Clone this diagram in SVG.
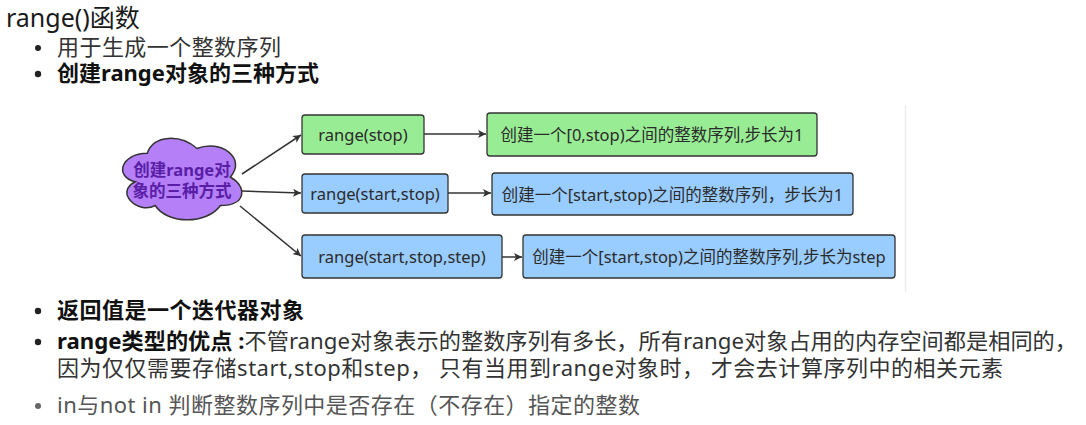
<svg xmlns="http://www.w3.org/2000/svg" width="1086" height="425" viewBox="0 0 1086 425">
<defs>
<style>
.t{font-family:"Noto Sans","Noto Sans CJK SC",sans-serif;}
.title{font-size:25px;fill:#1a1a1a;}
.b{font-size:22px;fill:#333;}
.bb{font-size:22px;fill:#111;font-weight:bold;}
.gray{fill:#555;}
.dot{fill:#222;}
.dotg{fill:#666;}
.box{stroke:#333;stroke-width:1.3;}
.green{fill:#98ec94;}
.blue{fill:#99ccff;}
.bt{font-size:16.5px;fill:#2b2b2b;text-anchor:middle;dominant-baseline:central;}
.ct{font-size:16.5px;font-weight:bold;fill:#5a1ea6;text-anchor:middle;dominant-baseline:central;}
.edge{stroke:#333;stroke-width:1.5;fill:none;marker-end:url(#arr);}
</style>
<marker id="arr" viewBox="0 0 10 10" refX="10" refY="5" markerWidth="8" markerHeight="8" markerUnits="userSpaceOnUse" orient="auto">
<path d="M0,0 L10,5 L0,10 L2.5,5 Z" fill="#333"/>
</marker>
</defs>
<rect width="1086" height="425" fill="#fff"/>
<line x1="905.5" y1="105" x2="905.5" y2="292" stroke="#ededed" stroke-width="1.5"/>

<g id="header">
<text class="t title" x="6" y="27">range()函数</text>
<circle class="dot" cx="38" cy="48" r="3"/>
<text class="t b" x="57" y="55" textLength="224">用于生成一个整数序列</text>
<circle class="dot" cx="38" cy="74" r="3.2"/>
<text class="t bb" x="57" y="81">创建range对象的三种方式</text>
</g>

<g id="connectors">
<path class="edge" d="M242,174 L301,135"/>
<path class="edge" d="M242,191 L301,193"/>
<path class="edge" d="M240,206 L301,256"/>
<path class="edge" d="M424,134 L486,134"/>
<path class="edge" d="M448,193 L491,193"/>
<path class="edge" d="M502,257 L522,257"/>
</g>

<g id="cloud">
<path d="M147.25,153.25 C120.65,153.25 114,177 135.28,181.75 C114,192.2 137.94,215 155.23,205.5 C167.2,224.5 207.1,224.5 220.4,205.5 C247,205.5 247,186.5 230.4,177 C247,158 220.4,139 197.1,148.5 C180.5,134.25 153.9,134.25 147.25,153.25 Z" fill="#b47ff7" stroke="#333" stroke-width="1.5"/>
<text class="t ct" x="182" y="169">创建range对</text>
<text class="t ct" x="182" y="190">象的三种方式</text>
</g>

<g id="n1">
<rect class="box green" x="302" y="115" width="122" height="39" rx="3"/>
<text class="t bt" x="363" y="134.5">range(stop)</text>
</g>
<g id="n2">
<rect class="box blue" x="302" y="174" width="146" height="39" rx="3"/>
<text class="t bt" x="375" y="193.5">range(start,stop)</text>
</g>
<g id="n3">
<rect class="box blue" x="302" y="235" width="200" height="43" rx="3"/>
<text class="t bt" x="402" y="256.5">range(start,stop,step)</text>
</g>
<g id="r1">
<rect class="box green" x="487" y="113" width="330" height="43" rx="3"/>
<text class="t bt" x="652" y="134.5">创建一个[0,stop)之间的整数序列,步长为1</text>
</g>
<g id="r2">
<rect class="box blue" x="492" y="173" width="361" height="42" rx="3"/>
<text class="t bt" x="672.5" y="194">创建一个[start,stop)之间的整数序列，步长为1</text>
</g>
<g id="r3">
<rect class="box blue" x="523" y="235" width="372" height="43" rx="3"/>
<text class="t bt" x="709" y="256.5">创建一个[start,stop)之间的整数序列,步长为step</text>
</g>

<g id="footer">
<circle class="dot" cx="38" cy="311" r="3.2"/>
<text class="t bb" x="57" y="318" textLength="247">返回值是一个迭代器对象</text>
<circle class="dot" cx="38" cy="342" r="3.2"/>
<text class="t b" x="57" y="349" textLength="1020" lengthAdjust="spacingAndGlyphs"><tspan class="bb">range类型的优点 :</tspan>不管range对象表示的整数序列有多长，所有range对象占用的内存空间都是相同的，</text>
<text class="t b" x="57" y="376" textLength="946">因为仅仅需要存储start,stop和step， 只有当用到range对象时， 才会去计算序列中的相关元素</text>
<circle class="dotg" cx="38" cy="406" r="3"/>
<text class="t b gray" x="57" y="413" textLength="583">in与not in 判断整数序列中是否存在（不存在）指定的整数</text>
</g>
</svg>
